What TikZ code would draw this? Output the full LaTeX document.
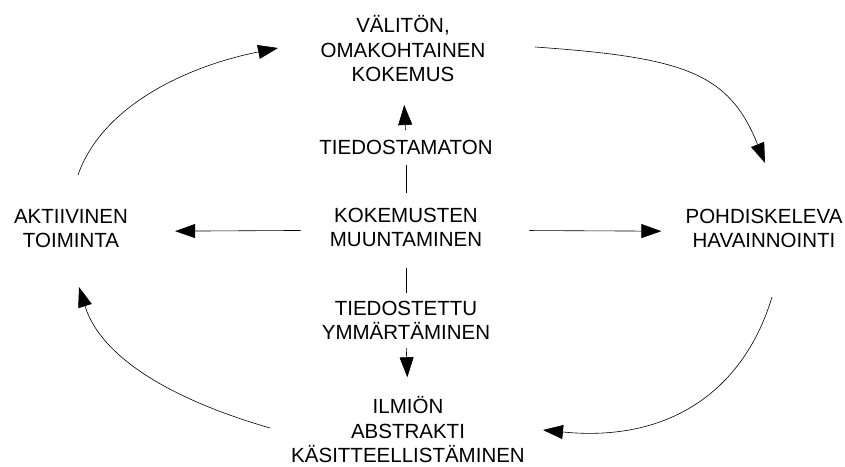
\documentclass[tikz,border=0pt]{standalone}
\usepackage{fontspec}
\setmainfont{Liberation Sans}
\usetikzlibrary{arrows.meta}
\tikzset{
  lbl/.style={inner sep=0pt, align=center, anchor=south, font=\fontsize{20.5}{24.5}\selectfont},
  conn/.style={line width=0.6pt, draw=black},
  arr/.style={conn, -{Triangle[length=20pt,width=14pt]}},
}
\begin{document}
\begin{tikzpicture}[x=1pt,y=-1pt]
\useasboundingbox (0,0) rectangle (845,466);
% nodes (anchor south = baseline of last line)
\node[lbl] (top) at (403,82) {VÄLITÖN,\\OMAKOHTAINEN\\KOKEMUS};
\node[lbl] (c) at (406,247) {KOKEMUSTEN\\MUUNTAMINEN};
\node[lbl] (t1) at (406,155) {TIEDOSTAMATON};
\node[lbl] (t2) at (406,340) {TIEDOSTETTU\\YMMÄRTÄMINEN};
\node[lbl] (bot) at (408,463) {ILMIÖN\\ABSTRAKTI\\KÄSITTEELLISTÄMINEN};
\node[lbl] (l) at (71,248) {AKTIIVINEN\\TOIMINTA};
\node[lbl] (r) at (764,248) {POHDISKELEVA\\HAVAINNOINTI};
% central connectors
\draw[conn, shorten <=15pt, shorten >=10pt] (c.north) -- (t1.south);
\draw[arr, shorten <=10pt, shorten >=23pt] (t1.north) -- (top.south);
\draw[conn, shorten <=21pt, shorten >=8pt] (c.south) -- (t2.north);
\draw[arr, shorten <=8pt, shorten >=19pt] (t2.south) -- (bot.north);
\draw[arr, shorten <=29pt, shorten >=47pt] ([yshift=-3pt]c.west) -- ([yshift=-3pt]l.east);
\draw[arr, shorten <=47pt, shorten >=24pt] ([yshift=-3pt]c.east) -- ([yshift=-3pt]r.west);
% cycle arcs
\coordinate (a1) at (78,175);  \coordinate (a2) at (278,48);
\coordinate (b1) at (535,47);  \coordinate (b2) at (765,163);
\coordinate (c1) at (772,297); \coordinate (c2) at (543,430);
\coordinate (d1) at (270,428); \coordinate (d2) at (79,287);
\draw[arr] (a1) .. controls (102.5,105) and (188,66) .. (a2);
\draw[arr] (b1) .. controls (685,57.5) and (729,73) .. (b2);
\draw[arr] (c1) .. controls (745,387) and (673,443) .. (c2);
\draw[arr] (d1) .. controls (170,399) and (101,357) .. (d2);
\end{tikzpicture}
\end{document}
